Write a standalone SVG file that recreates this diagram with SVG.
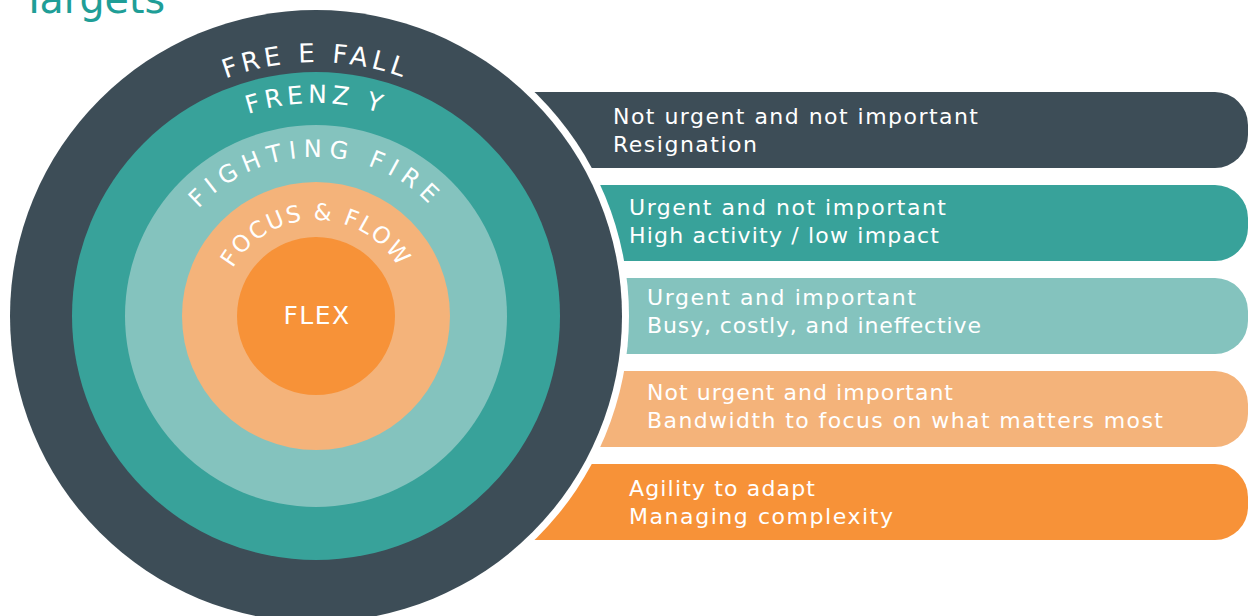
<svg xmlns="http://www.w3.org/2000/svg" width="1251" height="616" viewBox="0 0 1251 616">
  <style>
    .ring-label { font-family: "DejaVu Sans", "Open Sans", sans-serif; fill: #ffffff; }
    .bar-text { font-family: "DejaVu Sans", "Open Sans", sans-serif; fill: #ffffff; font-size: 22px; }
    .title { font-family: "DejaVu Sans", "Open Sans", sans-serif; fill: #1f9e97; font-size: 40px; }
  </style>
  <defs>
    <!-- baseline arcs over the top of each ring, centre (316,316) -->
    <path id="arc-freefall" d="M 62 316 A 254 254 0 0 1 570 316"/>
    <path id="arc-frenzy" d="M 103 316 A 213 213 0 0 1 529 316"/>
    <path id="arc-fighting" d="M 157 316 A 159 159 0 0 1 475 316"/>
    <path id="arc-focus" d="M 220 316 A 96 96 0 0 1 412 316"/>
  </defs>

  <rect width="1251" height="616" fill="#ffffff"/>

  <text class="title" x="22" y="13" textLength="143" lengthAdjust="spacingAndGlyphs">Targets</text>

  <!-- descriptive bars, rounded on the right, cut by the white halo on the left -->
  <g id="bars">
    <g id="bar-freefall">
      <path d="M 480 92 H 1215 A 33 33 0 0 1 1248 125 V 135 A 33 33 0 0 1 1215 168 H 480 Z" fill="#3d4d57"/>
      <text class="bar-text" x="613" y="124" textLength="365">Not urgent and not important</text>
      <text class="bar-text" x="613" y="152" textLength="144">Resignation</text>
    </g>
    <g id="bar-frenzy">
      <path d="M 480 185 H 1215 A 33 33 0 0 1 1248 218 V 228 A 33 33 0 0 1 1215 261 H 480 Z" fill="#38a29a"/>
      <text class="bar-text" x="629" y="215" textLength="317">Urgent and not important</text>
      <text class="bar-text" x="629" y="243" textLength="310">High activity / low impact</text>
    </g>
    <g id="bar-fighting">
      <path d="M 480 278 H 1215 A 33 33 0 0 1 1248 311 V 321 A 33 33 0 0 1 1215 354 H 480 Z" fill="#84c3be"/>
      <text class="bar-text" x="647" y="305" textLength="269">Urgent and important</text>
      <text class="bar-text" x="647" y="333" textLength="334">Busy, costly, and ineffective</text>
    </g>
    <g id="bar-focus">
      <path d="M 480 371 H 1215 A 33 33 0 0 1 1248 404 V 414 A 33 33 0 0 1 1215 447 H 480 Z" fill="#f4b37a"/>
      <text class="bar-text" x="647" y="400" textLength="306">Not urgent and important</text>
      <text class="bar-text" x="647" y="428" textLength="516">Bandwidth to focus on what matters most</text>
    </g>
    <g id="bar-flex">
      <path d="M 480 464 H 1215 A 33 33 0 0 1 1248 497 V 507 A 33 33 0 0 1 1215 540 H 480 Z" fill="#f79238"/>
      <text class="bar-text" x="629" y="496" textLength="186">Agility to adapt</text>
      <text class="bar-text" x="629" y="524" textLength="264">Managing complexity</text>
    </g>
  </g>

  <!-- concentric target -->
  <circle cx="316" cy="316" r="313" fill="#ffffff"/>
  <g id="ring-freefall">
    <circle cx="316" cy="316" r="306" fill="#3d4d57"/>
    <text class="ring-label" font-size="26" letter-spacing="4.3" text-anchor="middle"><textPath href="#arc-freefall" startOffset="50%">FRE E FALL</textPath></text>
  </g>
  <g id="ring-frenzy">
    <circle cx="316" cy="316" r="244" fill="#38a29a"/>
    <text class="ring-label" font-size="25" letter-spacing="4.5" text-anchor="middle"><textPath href="#arc-frenzy" startOffset="50%">FRENZ Y</textPath></text>
  </g>
  <g id="ring-fighting">
    <circle cx="316" cy="316" r="191" fill="#84c3be"/>
    <text class="ring-label" font-size="24" letter-spacing="6.8" text-anchor="middle"><textPath href="#arc-fighting" startOffset="50%">FIGHTING FIRE</textPath></text>
  </g>
  <g id="ring-focus">
    <circle cx="316" cy="316" r="134" fill="#f4b37a"/>
    <text class="ring-label" font-size="23" letter-spacing="2" text-anchor="middle"><textPath href="#arc-focus" startOffset="50%">FOCUS &amp; FLOW</textPath></text>
  </g>
  <g id="ring-flex">
    <circle cx="316" cy="316" r="79" fill="#f79238"/>
    <text class="ring-label" font-size="25" letter-spacing="1.5" x="317" y="324" text-anchor="middle">FLEX</text>
  </g>
</svg>
